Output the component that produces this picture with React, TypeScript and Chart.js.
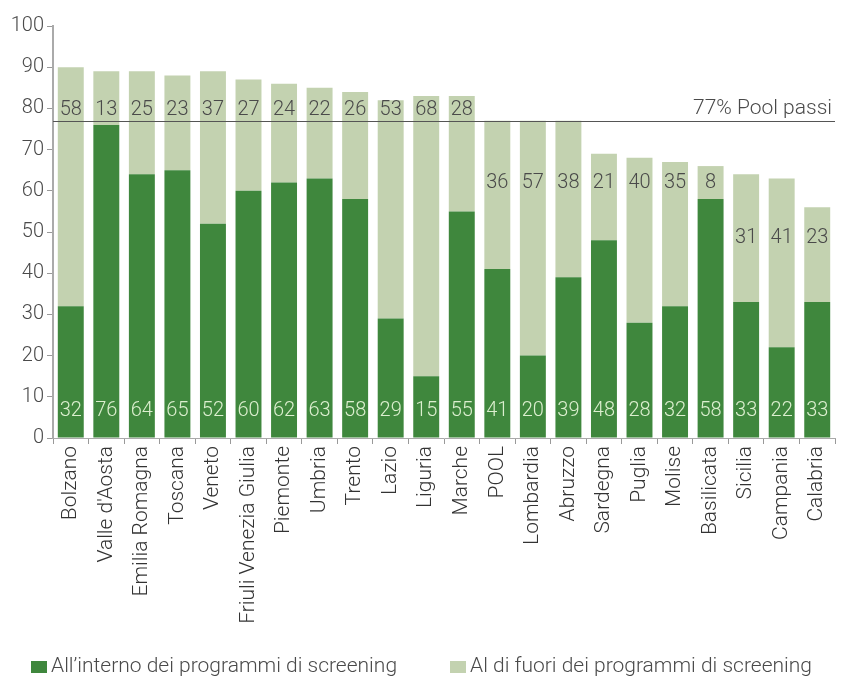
import React, { useEffect, useRef } from "react";
import { Chart, registerables } from "chart.js";

Chart.register(...registerables);

const categories = [
  "Bolzano", "Valle d'Aosta", "Emilia Romagna", "Toscana", "Veneto",
  "Friuli Venezia Giulia", "Piemonte", "Umbria", "Trento", "Lazio",
  "Liguria", "Marche", "POOL", "Lombardia", "Abruzzo", "Sardegna",
  "Puglia", "Molise", "Basilicata", "Sicilia", "Campania", "Calabria",
];
const insideValues = [32, 76, 64, 65, 52, 60, 62, 63, 58, 29, 15, 55, 41, 20, 39, 48, 28, 32, 58, 33, 22, 33];
const outsideValues = [58, 13, 25, 23, 37, 27, 24, 22, 26, 53, 68, 28, 36, 57, 38, 21, 40, 35, 8, 31, 41, 23];
const yTicks = [0, 10, 20, 30, 40, 50, 60, 70, 80, 90, 100];
const poolValue = 77;
const poolLabel = "77% Pool passi";
const seriesNames = ["All\u2019interno dei programmi di screening", "Al di fuori dei programmi di screening"];

const DARK = "#3f873d";
const LIGHT = "#c3d2b0";
const TEXT = "#4a4a4a";
const FONT = "Roboto";

const labelsPlugin = {
  id: "valueLabels",
  afterDatasetsDraw(chart: any) {
    const { ctx, scales } = chart;
    const y = scales.y;
    const x = scales.x;
    ctx.save();
    ctx.font = `300 20px ${FONT}`;
    ctx.textAlign = "center";
    ctx.textBaseline = "middle";
    categories.forEach((_, i) => {
      const cx = x.getPixelForValue(i);
      ctx.fillStyle = "#dcefcf";
      ctx.fillText(String(insideValues[i]), cx, y.getPixelForValue(6.5));
      const total = insideValues[i] + outsideValues[i];
      const lv = total > poolValue ? 79.7 : total >= 65 ? 62 : 48.5;
      ctx.fillStyle = TEXT;
      ctx.fillText(String(outsideValues[i]), cx, y.getPixelForValue(lv));
    });
    // pool line
    const py = Math.round(y.getPixelForValue(poolValue)) + 0.5;
    ctx.strokeStyle = "#555";
    ctx.lineWidth = 1;
    ctx.beginPath();
    ctx.moveTo(chart.chartArea.left, py);
    ctx.lineTo(chart.chartArea.right, py);
    ctx.stroke();
    ctx.font = `300 21px ${FONT}`;
    ctx.textAlign = "right";
    ctx.textBaseline = "alphabetic";
    ctx.fillStyle = TEXT;
    ctx.fillText(poolLabel, chart.chartArea.right - 3, py - 8);

    // legend
    const legendX = [31, 450];
    const ly = 667;
    ctx.font = `300 21px ${FONT}`;
    ctx.textAlign = "left";
    ctx.textBaseline = "middle";
    chart.data.datasets.forEach((ds: any, i: number) => {
      ctx.fillStyle = ds.backgroundColor;
      ctx.fillRect(legendX[i], ly - 6, 16, 12);
      ctx.fillStyle = TEXT;
      ctx.fillText(ds.label, legendX[i] + 20, ly);
    });
    ctx.restore();
  },
};

export default function App() {
  const ref = useRef<HTMLCanvasElement>(null);
  useEffect(() => {
    document.body.style.margin = "0";
    const chart = new Chart(ref.current!, {
      type: "bar",
      data: {
        labels: categories,
        datasets: [
          { label: seriesNames[0], data: insideValues, backgroundColor: DARK, barPercentage: 0.73, categoryPercentage: 1 },
          { label: seriesNames[1], data: outsideValues, backgroundColor: LIGHT, barPercentage: 0.73, categoryPercentage: 1 },
        ],
      },
      options: {
        animation: false,
        responsive: false,
        layout: { padding: { top: 26, right: 24, left: 0, bottom: 59 } },
        plugins: {
          legend: { display: false },
          tooltip: { enabled: false },
        },
        scales: {
          x: {
            stacked: true,
            grid: { drawOnChartArea: false, offset: true, color: "#999", tickLength: 6 },
            border: { color: "#aaa", width: 1 },
            ticks: {
              maxRotation: 90,
              minRotation: 90,
              autoSkip: false,
              font: { family: FONT, size: 21, weight: "300" },
              color: "#333",
              padding: 2,
            },
            afterFit: (s: any) => { s.height = 200; },
          },
          y: {
            stacked: true,
            min: 0,
            max: 100,
            afterBuildTicks: (s: any) => { s.ticks = yTicks.map((v) => ({ value: v })); },
            grid: { drawOnChartArea: false, color: "#999", tickLength: 6 },
            border: { color: "#aaa", width: 2 },
            ticks: {
              font: { family: FONT, size: 20, weight: "300" },
              color: TEXT,
              padding: 3,
            },
            afterFit: (s: any) => { s.width = 53; },
          },
        },
      },
      plugins: [labelsPlugin],
    });
    return () => chart.destroy();
  }, []);
  return (
    <div style={{ width: 859, height: 697, position: "relative" }}>
      <canvas ref={ref} width={859} height={697} />
    </div>
  );
}
